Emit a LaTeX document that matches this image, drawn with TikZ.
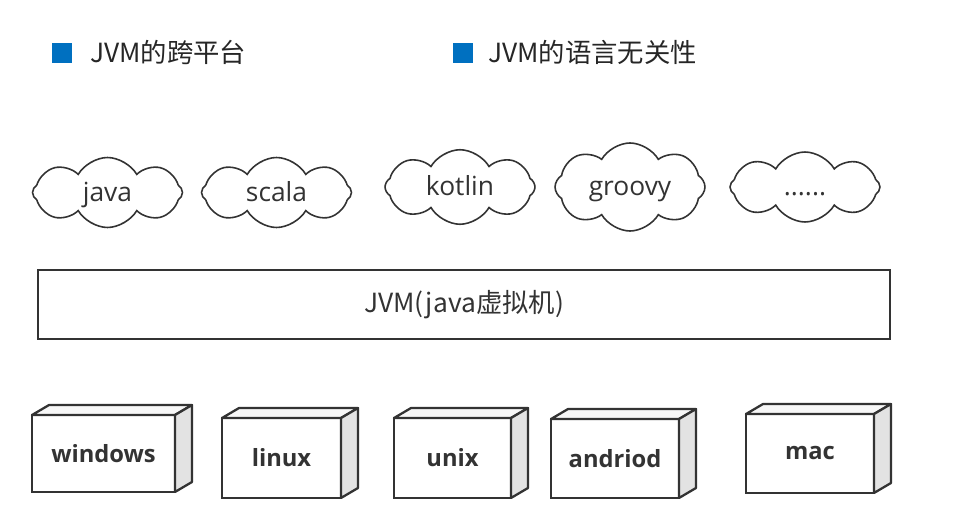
\documentclass[tikz,border=0pt]{standalone}
\usepackage{fontspec}
\setmainfont{Open Sans}
\newfontfamily\cjk{Noto Sans CJK SC}
\usetikzlibrary{shapes.symbols,calc}
\definecolor{titleblue}{RGB}{0,112,192}
\definecolor{ink}{RGB}{51,51,51}
\begin{document}
\begin{tikzpicture}[x=0.02cm,y=-0.02cm,
    lang/.style={cloud, cloud puffs=8, cloud puff arc=120, aspect=2.1, draw=ink, line width=0.9pt,
      minimum width=3.0cm, minimum height=1.4cm, text height=1.1em, text depth=0.1em, text=ink,
      font=\fontsize{15}{18}\selectfont},
    os/.style={draw=ink, line width=1.3pt, fill=white, outer sep=0pt, text=ink,
      font=\bfseries\fontsize{13.5}{16}\selectfont},
    side/.style={draw=ink, line width=1.3pt, line join=round}]
  \useasboundingbox (0,0) rectangle (964,530);

  % headings
  \node[fill=titleblue, minimum size=0.4cm, inner sep=0pt] (sq1) at (62,53) {};
  \node[anchor=west, text=black!85, font=\cjk\fontsize{15}{18}\selectfont] (t1) at (84,52) {JVM的跨平台};
  \node[fill=titleblue, minimum size=0.4cm, inner sep=0pt] (sq2) at (463,53) {};
  \node[anchor=west, text=black!85, font=\cjk\fontsize{15}{18}\selectfont] (t2) at (482,52) {JVM的语言无关性};

  % languages
  \node[lang] (java) at (107.5,192.5) {java};
  \node[lang] (scala) at (276.5,192.5) {scala};
  \node[lang] (kotlin) at (460,187) {kotlin};
  \node[lang] (groovy) at (630,187) {groovy};
  \node[lang] (more) at (805,187) {......};

  % the vm
  \node[draw=ink, line width=1.1pt, minimum width=17.04cm, minimum height=1.38cm, text=ink,
    font=\cjk\fontsize{15}{18}\selectfont] (jvm) at (464,304.5) {JVM(java虚拟机)};

  % platforms
  \node[os, minimum width=2.86cm, minimum height=1.54cm] (windows) at (103.5,453.5) {windows};
  \node[os, minimum width=2.38cm, minimum height=1.6cm] (linux) at (281.5,458) {linux};
  \node[os, minimum width=2.34cm, minimum height=1.6cm] (unix) at (452.5,458) {unix};
  \node[os, minimum width=2.56cm, minimum height=1.58cm] (andriod) at (615,458.5) {andriod};
  \node[os, minimum width=2.56cm, minimum height=1.58cm] (mac) at (810,453.5) {mac};
  \foreach \b in {windows,linux,unix,andriod,mac} {
    \draw[side, fill=gray!6] (\b.north west) -- ++(17,-10) -- ($(\b.north east)+(17,-10)$) -- (\b.north east) -- cycle;
    \draw[side, fill=gray!22] (\b.north east) -- ++(17,-10) -- ($(\b.south east)+(17,-10)$) -- (\b.south east) -- cycle;
  }
\end{tikzpicture}
\end{document}
